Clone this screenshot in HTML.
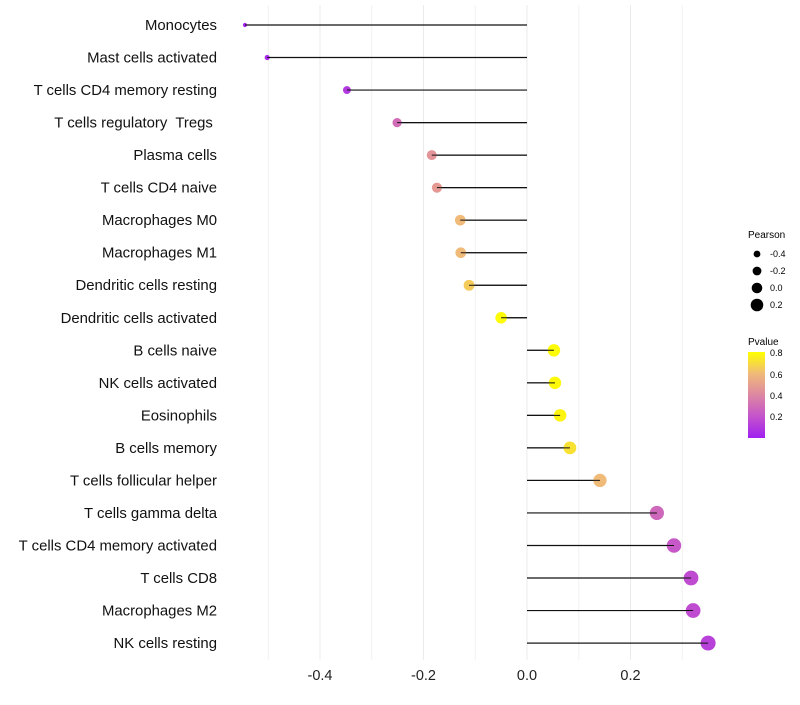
<!DOCTYPE html>
<html><head><meta charset="utf-8"><style>
body{margin:0;background:#fff;font-family:"Liberation Sans",sans-serif}
text{white-space:pre}
</style></head><body>
<svg id="chart" width="800" height="700" xmlns="http://www.w3.org/2000/svg">
<defs><linearGradient id="pg" x1="0" y1="1" x2="0" y2="0">
<stop offset="0" stop-color="#A020F0"/><stop offset="0.25" stop-color="#C453CC"/><stop offset="0.5" stop-color="#DD87A2"/><stop offset="0.75" stop-color="#F0BA78"/><stop offset="1" stop-color="#FFFF00"/></linearGradient></defs>
<g id="grid"></g>
<g id="marks"></g>
<g id="labels"></g>
<g font-size="9" fill="#000">
<text x="748" y="238" font-size="10">Pearson</text>
<circle cx="757" cy="254" r="3.4"/><text x="770" y="257">-0.4</text>
<circle cx="757" cy="271" r="4.4"/><text x="770" y="274">-0.2</text>
<circle cx="757" cy="288" r="5.3"/><text x="770" y="291">0.0</text>
<circle cx="757" cy="305" r="6.3"/><text x="770" y="308">0.2</text>
</g>
<g font-size="9" fill="#000">
<text x="748" y="345" font-size="10">Pvalue</text>
<rect x="748" y="352" width="17" height="86" fill="url(#pg)"/>
<text x="770" y="356">0.8</text>
<text x="770" y="378">0.6</text>
<text x="770" y="399">0.4</text>
<text x="770" y="420">0.2</text>
</g>
</svg>
<script>
const categories=["Monocytes","Mast cells activated","T cells CD4 memory resting","T cells regulatory  Tregs ","Plasma cells","T cells CD4 naive","Macrophages M0","Macrophages M1","Dendritic cells resting","Dendritic cells activated","B cells naive","NK cells activated","Eosinophils","B cells memory","T cells follicular helper","T cells gamma delta","T cells CD4 memory activated","T cells CD8","Macrophages M2","NK cells resting"];
const pearson=[-0.545,-0.502,-0.348,-0.251,-0.184,-0.174,-0.129,-0.128,-0.112,-0.050,0.052,0.054,0.064,0.083,0.141,0.251,0.284,0.317,0.321,0.350];
const pvalue=[0.02,0.04,0.1,0.3,0.45,0.47,0.6,0.6,0.65,0.8,0.8,0.79,0.78,0.72,0.6,0.28,0.22,0.17,0.17,0.13];
const xTicks=[-0.4,-0.2,0.0,0.2];
const xMinor=[-0.5,-0.3,-0.1,0.1,0.3];
const NS="http://www.w3.org/2000/svg";
const xs=v=>527+v*517.5;
const ys=i=>25+i*32.53;
const rs=v=>Math.sqrt(4+57.8*Math.max(0,v+0.55));
function hex(h){return [parseInt(h.slice(1,3),16),parseInt(h.slice(3,5),16),parseInt(h.slice(5,7),16)];}
const stops=[[0,"#A020F0"],[0.2,"#C453CC"],[0.4,"#DD87A2"],[0.6,"#F0BA78"],[0.81,"#FFFF00"]];
function col(p){p=Math.max(0,Math.min(0.81,p));for(let k=0;k<stops.length-1;k++){const a=stops[k],b=stops[k+1];if(p<=b[0]){const t=(p-a[0])/(b[0]-a[0]);const A=hex(a[1]),B=hex(b[1]);return "rgb("+A.map((c,j)=>Math.round(c+(B[j]-c)*t)).join(",")+")";}}return "#FFFF00";}
function mk(tag,attrs,parent){const e=document.createElementNS(NS,tag);for(const k in attrs)e.setAttribute(k,attrs[k]);parent.appendChild(e);return e;}
const grid=document.getElementById('grid'),marks=document.getElementById('marks'),labels=document.getElementById('labels');
xMinor.forEach(v=>{const l=mk('line',{x1:xs(v),x2:xs(v),y1:5,y2:660,stroke:'#f2f2f2','stroke-width':1},grid);

});
xTicks.forEach(v=>{const l=mk('line',{x1:xs(v),x2:xs(v),y1:5,y2:660,stroke:'#ebebeb','stroke-width':1},grid);


const t=mk('text',{x:xs(v),y:680,'text-anchor':'middle','font-size':14.5,fill:'#222'},labels);t.textContent=v.toFixed(1);

});
categories.forEach((c,i)=>{const y=ys(i);
const s=mk('line',{x1:xs(0),x2:xs(pearson[i]),y1:y,y2:y,stroke:'#111','stroke-width':1.2},marks);


const d=mk('circle',{cx:xs(pearson[i]),cy:y,r:rs(pearson[i]),fill:col(pvalue[i])},marks);


const s2=mk('line',{x1:xs(0),x2:xs(pearson[i]),y1:y,y2:y,stroke:'#111','stroke-width':1},marks);


const t=mk('text',{x:217,y:y+5,'text-anchor':'end','font-size':14.9,fill:'#111'},labels);t.textContent=c;

});
</script>
</body></html>
